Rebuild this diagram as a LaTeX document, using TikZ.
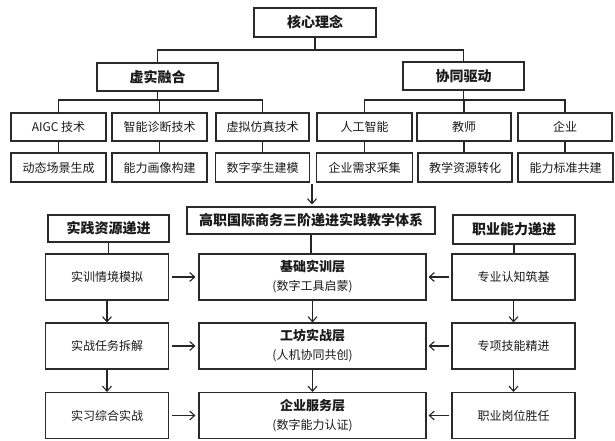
\documentclass[tikz,border=0pt]{standalone}
\usepackage{fontspec}
\setmainfont{Noto Sans CJK SC}
\usetikzlibrary{arrows.meta}
\definecolor{boxc}{HTML}{2A2A2A}
\definecolor{linec}{HTML}{262626}
\definecolor{txt}{HTML}{1A1A1A}
\begin{document}
\begin{tikzpicture}[x=1pt,y=-1pt,
  box/.style={draw=boxc, line width=1.1pt, inner sep=0pt, minimum height=28pt, text=txt, font=\fontsize{12}{14}\selectfont},
  head/.style={box, font=\fontsize{14}{16}\selectfont\bfseries},
  tall/.style={box, minimum height=46pt, minimum width=123pt},
  layer/.style={box, minimum height=46pt, minimum width=227pt, align=center, font=\fontsize{12}{19}\selectfont},
  con/.style={draw=linec, line width=1.1pt},
  arr/.style={con, -{Straight Barb[length=5pt,width=9pt,line width=1.1pt]}},
]
\fill[white] (0,0) rectangle (615,441);
\useasboundingbox (0,0) rectangle (615,441);

% top level
\node[head, minimum width=122pt, minimum height=29pt] (core) at (315,22.5) {核心理念};
\node[head, minimum width=121pt] (xs) at (157.5,77) {虚实融合};
\node[head, minimum width=121pt] (xt) at (463.5,76) {协同驱动};

% row 1
\node[box, minimum width=95pt] (a1) at (58.5,127) {AIGC 技术};
\node[box, minimum width=95pt] (a2) at (159.5,127) {智能诊断技术};
\node[box, minimum width=93pt] (a3) at (262.5,127) {虚拟仿真技术};
\node[box, minimum width=95pt] (a4) at (364.5,127) {人工智能};
\node[box, minimum width=94pt] (a5) at (464,127) {教师};
\node[box, minimum width=94pt] (a6) at (565,127) {企业};

% row 2
\node[box, minimum width=95pt, minimum height=29pt] (b1) at (58.5,167.5) {动态场景生成};
\node[box, minimum width=95pt, minimum height=29pt] (b2) at (159.5,167.5) {能力画像构建};
\node[box, minimum width=94pt, minimum height=29pt] (b3) at (262.5,167.5) {数字孪生建模};
\node[box, minimum width=96pt, minimum height=29pt] (b4) at (364.5,167.5) {企业需求采集};
\node[box, minimum width=94pt, minimum height=29pt] (b5) at (465,167.5) {教学资源转化};
\node[box, minimum width=95pt, minimum height=29pt] (b6) at (565.5,167.5) {能力标准共建};

% system title and side headers
\node[head, minimum width=248pt, minimum height=27pt] (title) at (311,220.5) {高职国际商务三阶递进实践教学体系};
\node[head, minimum width=121pt, minimum height=27pt] (L0) at (108.5,228.5) {实践资源递进};
\node[head, minimum width=122pt, minimum height=29pt] (R0) at (514,229.5) {职业能力递进};

% three layers
\node[tall] (L1) at (107,277) {实训情境模拟};
\node[tall] (L2) at (107,346) {实战任务拆解};
\node[tall] (L3) at (107,415.5) {实习综合实战};

\node[layer] (M1) at (312.5,277) {{\fontsize{13}{19}\selectfont\bfseries 基础实训层}\\(数字工具启蒙)};
\node[layer] (M2) at (312.5,346) {{\fontsize{13}{19}\selectfont\bfseries 工坊实战层}\\(人机协同共创)};
\node[layer] (M3) at (312.5,415.5) {{\fontsize{13}{19}\selectfont\bfseries 企业服务层}\\(数字能力认证)};

\node[tall] (R1) at (513.5,277) {专业认知筑基};
\node[tall] (R2) at (513.5,346) {专项技能精进};
\node[tall] (R3) at (513.5,415.5) {职业岗位胜任};

% tree connectors
\coordinate (busT) at (315,50);
\draw[con] (core.south) -- (busT);
\draw[con] (xs.north) |- (busT) -| (xt.north);

\coordinate (busL) at (157.5,100);
\draw[con] (xs.south) -- (busL);
\draw[con] (a1.north) |- (busL) -| (a3.north);
\draw[con] (a2.north) -- (a2.north |- busL);

\coordinate (busR) at (463.5,100);
\draw[con] (xt.south) -- (busR);
\draw[con] (a4.north) |- (busR) -| (a6.north);
\draw[con] (a5.north) -- (a5.north |- busR);

\foreach \i in {1,...,6} {
  \draw[con] (a\i.south) -- (a\i.south |- b\i.north);
}

\coordinate (arrS) at (312,184);
\draw[arr, shorten >=2pt] (arrS) -- (arrS |- title.north);

% lower connectors
\draw[con] (L0.south) -- (L0.south |- L1.north);
\draw[con] (title.south) -- (title.south |- M1.north);
\draw[con] (R0.south) -- (R0.south |- R1.north);

\foreach \r in {1,2,3} {
  \draw[arr, shorten <=3pt, shorten >=3pt] (L\r.east) -- (M\r.west);
  \draw[arr, shorten <=2pt, shorten >=2pt] (R\r.west) -- (M\r.east);
}
\draw[arr] (L1.south) -- (L2.north);
\draw[arr] (L2.south) -- (L3.north);
\draw[arr] (M1.south) -- (M2.north);
\draw[arr] (M2.south) -- (M3.north);
\draw[arr] (R1.south) -- (R2.north);
\draw[arr] (R2.south) -- (R3.north);
\end{tikzpicture}
\end{document}
